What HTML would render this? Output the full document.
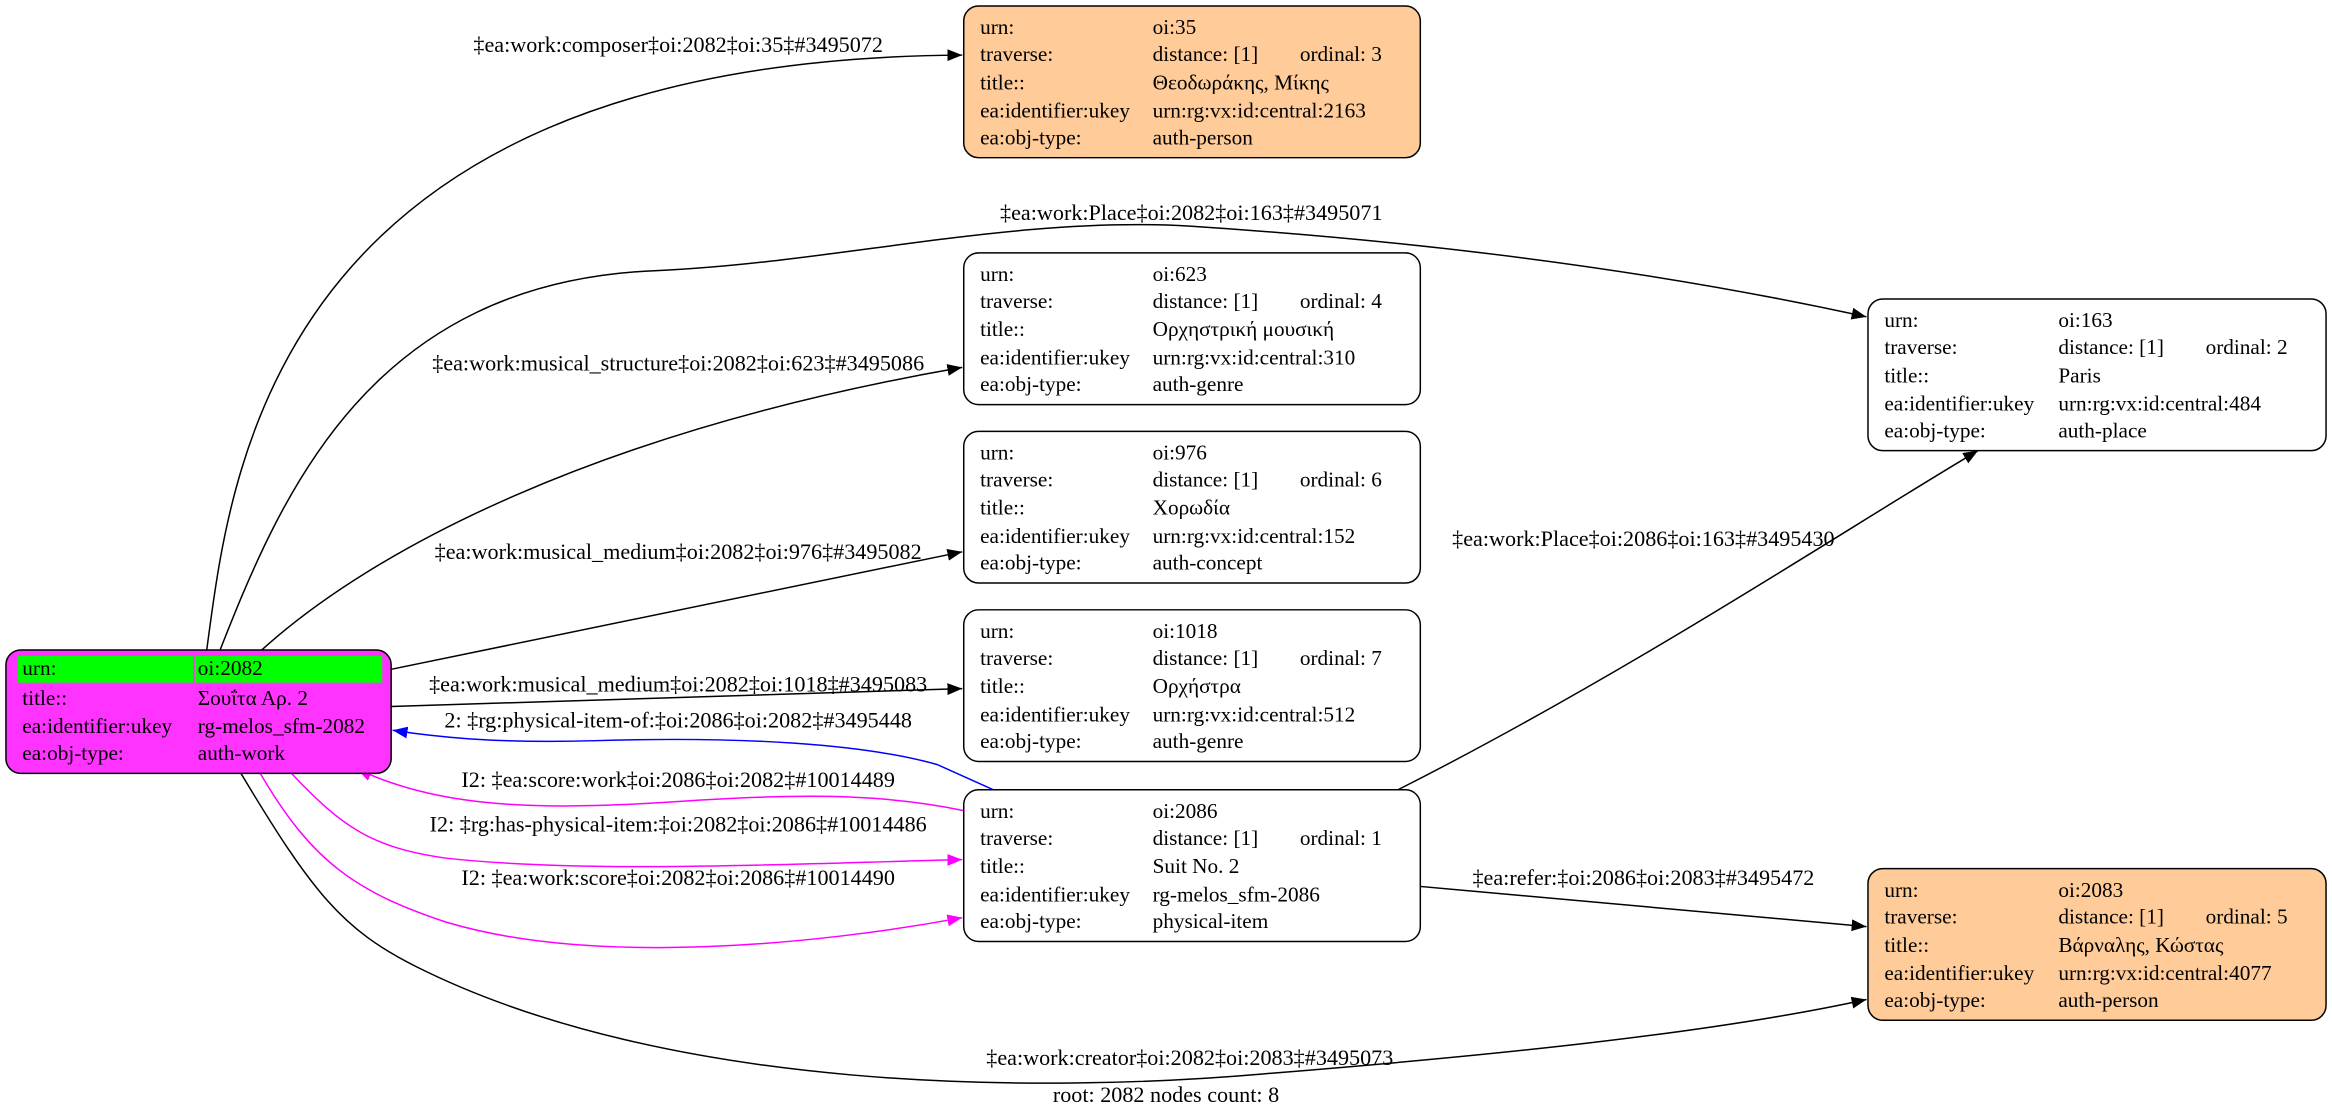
<!DOCTYPE html>
<html><head><meta charset="utf-8"><style>
html,body{margin:0;padding:0;background:#fff;}
svg{display:block;}
text{font-family:"Liberation Serif","DejaVu Serif",serif;font-size:14.3px;fill:#000;}
.lbl text{font-size:14.9px;}
</style></head><body>
<svg width="2332" height="1117" viewBox="0 0 1568 751" xmlns="http://www.w3.org/2000/svg">
<defs>
<marker id="ak" markerWidth="10" markerHeight="8" refX="10" refY="4" orient="auto" markerUnits="userSpaceOnUse"><path d="M0,0 L10,4 L0,8 z" fill="#000"/></marker>
<marker id="ab" markerWidth="10" markerHeight="8" refX="10" refY="4" orient="auto" markerUnits="userSpaceOnUse"><path d="M0,0 L10,4 L0,8 z" fill="#00f"/></marker>
<marker id="am" markerWidth="10" markerHeight="8" refX="10" refY="4" orient="auto" markerUnits="userSpaceOnUse"><path d="M0,0 L10,4 L0,8 z" fill="#f0f"/></marker>
</defs>
<g fill="none" stroke-width="1">
<path d="M139,437 C155,320 180,40 647,37" stroke="#000" marker-end="url(#ak)"/>
<path d="M148,437 C190,330 250,190 440,182 C560,177 680,145 800,152 C1000,165 1150,190 1255,213" stroke="#000" marker-end="url(#ak)"/>
<path d="M176,437 C250,370 400,290 647,247" stroke="#000" marker-end="url(#ak)"/>
<path d="M263,450 L647,371" stroke="#000" marker-end="url(#ak)"/>
<path d="M263,475 L647,463" stroke="#000" marker-end="url(#ak)"/>
<path d="M668,531 L630,514 C580,500 500,495 400,498 C330,500 290,495 264,491" stroke="#00f" marker-end="url(#ab)"/>
<path d="M648,545 C600,535 550,533 470,538 C370,545 300,545 240,517" stroke="#f0f" marker-end="url(#am)"/>
<path d="M196,520 C230,556 250,570 300,577 C400,588 550,580 647,578" stroke="#f0f" marker-end="url(#am)"/>
<path d="M175,520 C210,580 240,600 300,620 C400,650 550,635 647,617" stroke="#f0f" marker-end="url(#am)"/>
<path d="M162,520 C210,600 230,625 280,650 C450,735 700,735 850,722 C1000,710 1150,695 1255,672" stroke="#000" marker-end="url(#ak)"/>
<path d="M940,531 C1100,450 1250,350 1330,303" stroke="#000" marker-end="url(#ak)"/>
<path d="M955,596 L1255,623" stroke="#000" marker-end="url(#ak)"/>
</g>
<g text-anchor="middle" class="lbl">
<text x="456" y="35">‡ea:work:composer‡oi:2082‡oi:35‡#3495072</text>
<text x="801" y="148">‡ea:work:Place‡oi:2082‡oi:163‡#3495071</text>
<text x="456" y="249">‡ea:work:musical_structure‡oi:2082‡oi:623‡#3495086</text>
<text x="456" y="376">‡ea:work:musical_medium‡oi:2082‡oi:976‡#3495082</text>
<text x="456" y="465">‡ea:work:musical_medium‡oi:2082‡oi:1018‡#3495083</text>
<text x="456" y="489">2: ‡rg:physical-item-of:‡oi:2086‡oi:2082‡#3495448</text>
<text x="456" y="529">I2: ‡ea:score:work‡oi:2086‡oi:2082‡#10014489</text>
<text x="456" y="559">I2: ‡rg:has-physical-item:‡oi:2082‡oi:2086‡#10014486</text>
<text x="456" y="595">I2: ‡ea:work:score‡oi:2082‡oi:2086‡#10014490</text>
<text x="800" y="716">‡ea:work:creator‡oi:2082‡oi:2083‡#3495073</text>
<text x="1105" y="367">‡ea:work:Place‡oi:2086‡oi:163‡#3495430</text>
<text x="1105" y="595">‡ea:refer:‡oi:2086‡oi:2083‡#3495472</text>
<text x="784" y="741">root: 2082 nodes count: 8</text>
</g>
<rect x="4" y="437" width="259" height="83" rx="10" fill="#ff33ff" stroke="#000"/>
<rect x="12" y="441" width="118" height="18" fill="#00ff00"/>
<rect x="131" y="441" width="126" height="18" fill="#00ff00"/>
<g>
<text x="15" y="454">urn:</text><text x="133" y="454">oi:2082</text>
<text x="15" y="474">title::</text><text x="133" y="474">Σουΐτα Αρ. 2</text>
<text x="15" y="493">ea:identifier:ukey</text><text x="133" y="493">rg-melos_sfm-2082</text>
<text x="15" y="511">ea:obj-type:</text><text x="133" y="511">auth-work</text>
</g>
<g>
<rect x="648" y="4" width="307" height="102" rx="10" fill="#ffcc99" stroke="#000"/>
<text x="659" y="23">urn:</text><text x="775" y="23">oi:35</text>
<text x="659" y="41">traverse:</text><text x="775" y="41">distance: [1]</text><text x="874" y="41">ordinal: 3</text>
<text x="659" y="60">title::</text><text x="775" y="60">Θεοδωράκης, Μίκης</text>
<text x="659" y="79">ea:identifier:ukey</text><text x="775" y="79">urn:rg:vx:id:central:2163</text>
<text x="659" y="97">ea:obj-type:</text><text x="775" y="97">auth-person</text>
</g>
<g>
<rect x="648" y="170" width="307" height="102" rx="10" fill="#fff" stroke="#000"/>
<text x="659" y="189">urn:</text><text x="775" y="189">oi:623</text>
<text x="659" y="207">traverse:</text><text x="775" y="207">distance: [1]</text><text x="874" y="207">ordinal: 4</text>
<text x="659" y="226">title::</text><text x="775" y="226">Ορχηστρική μουσική</text>
<text x="659" y="245">ea:identifier:ukey</text><text x="775" y="245">urn:rg:vx:id:central:310</text>
<text x="659" y="263">ea:obj-type:</text><text x="775" y="263">auth-genre</text>
</g>
<g>
<rect x="648" y="290" width="307" height="102" rx="10" fill="#fff" stroke="#000"/>
<text x="659" y="309">urn:</text><text x="775" y="309">oi:976</text>
<text x="659" y="327">traverse:</text><text x="775" y="327">distance: [1]</text><text x="874" y="327">ordinal: 6</text>
<text x="659" y="346">title::</text><text x="775" y="346">Χορωδία</text>
<text x="659" y="365">ea:identifier:ukey</text><text x="775" y="365">urn:rg:vx:id:central:152</text>
<text x="659" y="383">ea:obj-type:</text><text x="775" y="383">auth-concept</text>
</g>
<g>
<rect x="648" y="410" width="307" height="102" rx="10" fill="#fff" stroke="#000"/>
<text x="659" y="429">urn:</text><text x="775" y="429">oi:1018</text>
<text x="659" y="447">traverse:</text><text x="775" y="447">distance: [1]</text><text x="874" y="447">ordinal: 7</text>
<text x="659" y="466">title::</text><text x="775" y="466">Ορχήστρα</text>
<text x="659" y="485">ea:identifier:ukey</text><text x="775" y="485">urn:rg:vx:id:central:512</text>
<text x="659" y="503">ea:obj-type:</text><text x="775" y="503">auth-genre</text>
</g>
<g>
<rect x="648" y="531" width="307" height="102" rx="10" fill="#fff" stroke="#000"/>
<text x="659" y="550">urn:</text><text x="775" y="550">oi:2086</text>
<text x="659" y="568">traverse:</text><text x="775" y="568">distance: [1]</text><text x="874" y="568">ordinal: 1</text>
<text x="659" y="587">title::</text><text x="775" y="587">Suit No. 2</text>
<text x="659" y="606">ea:identifier:ukey</text><text x="775" y="606">rg-melos_sfm-2086</text>
<text x="659" y="624">ea:obj-type:</text><text x="775" y="624">physical-item</text>
</g>
<g>
<rect x="1256" y="201" width="308" height="102" rx="10" fill="#fff" stroke="#000"/>
<text x="1267" y="220">urn:</text><text x="1384" y="220">oi:163</text>
<text x="1267" y="238">traverse:</text><text x="1384" y="238">distance: [1]</text><text x="1483" y="238">ordinal: 2</text>
<text x="1267" y="257">title::</text><text x="1384" y="257">Paris</text>
<text x="1267" y="276">ea:identifier:ukey</text><text x="1384" y="276">urn:rg:vx:id:central:484</text>
<text x="1267" y="294">ea:obj-type:</text><text x="1384" y="294">auth-place</text>
</g>
<g>
<rect x="1256" y="584" width="308" height="102" rx="10" fill="#ffcc99" stroke="#000"/>
<text x="1267" y="603">urn:</text><text x="1384" y="603">oi:2083</text>
<text x="1267" y="621">traverse:</text><text x="1384" y="621">distance: [1]</text><text x="1483" y="621">ordinal: 5</text>
<text x="1267" y="640">title::</text><text x="1384" y="640">Βάρναλης, Κώστας</text>
<text x="1267" y="659">ea:identifier:ukey</text><text x="1384" y="659">urn:rg:vx:id:central:4077</text>
<text x="1267" y="677">ea:obj-type:</text><text x="1384" y="677">auth-person</text>
</g>
</svg>
</body></html>
